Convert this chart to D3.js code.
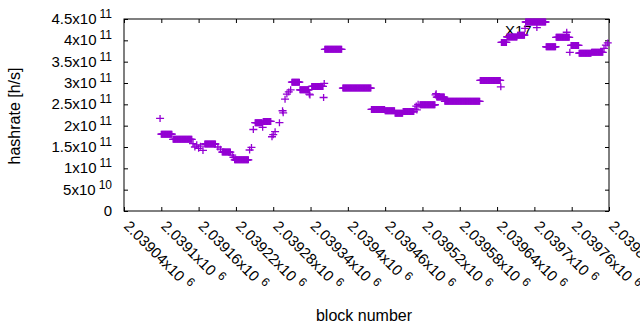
<!DOCTYPE html>
<html>
<head>
<meta charset="utf-8">
<script src="https://cdn.jsdelivr.net/npm/d3@7"></script>
<style>
  body { margin: 0; background: #fff; }
  text { font-family: "Liberation Sans", Arial, sans-serif; fill: #000; }
</style>
</head>
<body>
<svg id="chart" width="640" height="330"></svg>
<script>
// hashrate per block, run-length encoded: every block from runStart to runEnd has runValue
const runStart = [2039098, 2039100, 2039119, 2039151, 2039154, 2039157, 2039160, 2039163, 2039167, 2039170,
                  2039191, 2039195, 2039198, 2039214, 2039216, 2039218, 2039242, 2039245, 2039248, 2039251,
                  2039263, 2039264, 2039278, 2039280, 2039283, 2039290, 2039295, 2039296, 2039299, 2039302,
                  2039305, 2039308, 2039310, 2039323, 2039338, 2039339, 2039342, 2039361, 2039362, 2039363,
                  2039392, 2039438, 2039460, 2039476, 2039489, 2039508, 2039510, 2039511, 2039513, 2039516,
                  2039541, 2039542, 2039543, 2039556, 2039613, 2039646, 2039647, 2039656, 2039673, 2039685,
                  2039686, 2039704, 2039719, 2039735, 2039752, 2039757, 2039759, 2039772, 2039792, 2039812,
                  2039815, 2039818];
const runEnd   = [2039098, 2039117, 2039149, 2039151, 2039154, 2039157, 2039160, 2039163, 2039167, 2039187,
                  2039191, 2039195, 2039211, 2039214, 2039216, 2039240, 2039242, 2039245, 2039248, 2039262,
                  2039263, 2039276, 2039278, 2039280, 2039283, 2039290, 2039295, 2039296, 2039299, 2039302,
                  2039305, 2039308, 2039322, 2039337, 2039338, 2039339, 2039360, 2039361, 2039362, 2039390,
                  2039437, 2039459, 2039475, 2039488, 2039506, 2039508, 2039510, 2039511, 2039513, 2039540,
                  2039541, 2039542, 2039555, 2039612, 2039645, 2039646, 2039655, 2039672, 2039684, 2039685,
                  2039718, 2039704, 2039734, 2039756, 2039752, 2039757, 2039771, 2039791, 2039810, 2039812,
                  2039815, 2039818];
const runValue = [2.17e11, 1.80e11, 1.68e11, 1.58e11, 1.50e11, 1.55e11, 1.47e11, 1.52e11, 1.42e11, 1.57e11,
                  1.50e11, 1.45e11, 1.38e11, 1.31e11, 1.26e11, 1.20e11, 1.43e11, 1.49e11, 1.91e11, 2.07e11,
                  1.96e11, 2.10e11, 1.74e11, 1.79e11, 1.86e11, 2.07e11, 2.35e11, 2.30e11, 2.62e11, 2.74e11,
                  2.79e11, 2.84e11, 3.02e11, 2.84e11, 2.74e11, 2.72e11, 2.92e11, 2.66e11, 2.99e11, 3.79e11,
                  2.88e11, 2.38e11, 2.35e11, 2.29e11, 2.33e11, 2.39e11, 2.46e11, 2.37e11, 2.50e11, 2.49e11,
                  2.72e11, 2.75e11, 2.67e11, 2.57e11, 3.06e11, 2.91e11, 3.95e11, 4.08e11, 4.12e11, 4.28e11,
                  4.43e11, 4.30e11, 3.85e11, 4.07e11, 4.19e11, 3.72e11, 3.88e11, 3.70e11, 3.72e11, 3.81e11,
                  3.89e11, 3.94e11];

const xTicks = [2039040, 2039100, 2039160, 2039220, 2039280, 2039340, 2039400,
                2039460, 2039520, 2039580, 2039640, 2039700, 2039760, 2039820];
const xTickLabels = ["2.03904", "2.0391", "2.03916", "2.03922", "2.03928", "2.03934", "2.0394",
                     "2.03946", "2.03952", "2.03958", "2.03964", "2.0397", "2.03976", "2.03982"];
const yTicks = [0, 5e10, 1e11, 1.5e11, 2e11, 2.5e11, 3e11, 3.5e11, 4e11, 4.5e11];
const yTickMant = ["0", "5", "1", "1.5", "2", "2.5", "3", "3.5", "4", "4.5"];
const yTickExp = ["", "10", "11", "11", "11", "11", "11", "11", "11", "11"];

const svg = d3.select("#chart");
const plotL = 124, plotR = 609, plotT = 19, plotB = 211;

const x = d3.scaleLinear().domain([2039040, 2039820]).range([plotL, plotR]);
const y = d3.scaleLinear().domain([0, 4.5e11]).range([plotB, plotT]);

// ticks point inward, mirrored on all four sides
svg.append("g").attr("transform", `translate(0,${plotB})`)
    .call(d3.axisBottom(x).tickValues(xTicks).tickSize(-4).tickSizeOuter(0).tickFormat(""));
svg.append("g").attr("transform", `translate(0,${plotT})`)
    .call(d3.axisTop(x).tickValues(xTicks).tickSize(-4).tickSizeOuter(0).tickFormat(""));
svg.append("g").attr("transform", `translate(${plotL},0)`)
    .call(d3.axisLeft(y).tickValues(yTicks).tickSize(-4).tickSizeOuter(0).tickFormat(""));
svg.append("g").attr("transform", `translate(${plotR},0)`)
    .call(d3.axisRight(y).tickValues(yTicks).tickSize(-4).tickSizeOuter(0).tickFormat(""));
svg.selectAll(".domain").remove();
svg.selectAll(".tick line").attr("stroke", "#000");

svg.append("rect")
    .attr("x", plotL).attr("y", plotT)
    .attr("width", plotR - plotL).attr("height", plotB - plotT)
    .attr("fill", "none").attr("stroke", "#000").attr("stroke-width", 1);

// y tick labels
const yLab = svg.selectAll(".ylab")
    .data(yTicks)
    .enter()
    .append("text")
    .attr("class", "ylab")
    .attr("x", 112)
    .attr("y", d => y(d) + 5)
    .attr("text-anchor", "end")
    .attr("font-size", 15);
yLab.append("tspan").text((d, i) => yTickExp[i] ? yTickMant[i] + "x10" : yTickMant[i]);
yLab.append("tspan")
    .attr("dx", 3).attr("dy", -6)
    .attr("font-size", 12)
    .text((d, i) => yTickExp[i]);

// x tick labels, rotated
const xLab = svg.selectAll(".xlab")
    .data(xTicks)
    .enter()
    .append("text")
    .attr("class", "xlab")
    .attr("transform", d => `translate(${x(d) - 1},227) rotate(45)`)
    .attr("font-size", 15);
xLab.append("tspan").text((d, i) => xTickLabels[i] + "x10");
xLab.append("tspan")
    .attr("dx", 5).attr("dy", -5)
    .attr("font-size", 12)
    .text("6");

svg.append("text")
    .attr("transform", "translate(20,116) rotate(-90)")
    .attr("text-anchor", "middle")
    .attr("font-size", 16)
    .text("hashrate [h/s]");

svg.append("text")
    .attr("x", 364).attr("y", 321)
    .attr("text-anchor", "middle")
    .attr("font-size", 16)
    .text("block number");

svg.append("text")
    .attr("x", 505).attr("y", 36)
    .attr("font-size", 15)
    .text("X17");

// one cross per block
const points = runStart.flatMap((s, i) =>
    d3.range(s, runEnd[i] + 1).map(b => ({ block: b, value: runValue[i] })));

svg.append("g")
    .selectAll("path")
    .data(points)
    .enter()
    .append("path")
    .attr("d", d => {
        const px = x(d.block), py = y(d.value);
        return `M${px - 4},${py}H${px + 4}M${px},${py - 3.5}V${py + 3.5}`;
    })
    .attr("fill", "none")
    .attr("stroke", "#9400d3")
    .attr("stroke-width", 1.3);
</script>
</body>
</html>
